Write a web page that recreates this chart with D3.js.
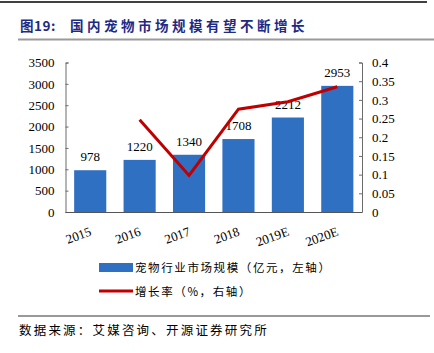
<!DOCTYPE html>
<html>
<head>
<meta charset="utf-8">
<script src="https://cdn.jsdelivr.net/npm/d3@7"></script>
<style>
  body { margin: 0; background: #fff; }
  svg { display: block; }
</style>
</head>
<body>
<div id="chart"></div>
<script>
// chart values
const years = ["2015", "2016", "2017", "2018", "2019E", "2020E"];
const marketSize = [978, 1220, 1340, 1708, 2212, 2953];      // 亿元
const growth = [null, 0.247, 0.098, 0.275, 0.295, 0.335];    // 增长率
const leftTicks = [0, 500, 1000, 1500, 2000, 2500, 3000, 3500];
const rightTicks = [0, 0.05, 0.1, 0.15, 0.2, 0.25, 0.3, 0.35, 0.4];

const W = 434, H = 353;
const plot = {left: 65.5, right: 362, top: 62.5, bottom: 212};
const serif = "'Liberation Serif', 'Times New Roman', serif";
const cjk = "'Noto Sans CJK SC', sans-serif";
const blue = "#2f70c2", red = "#c00000";

const svg = d3.select("#chart").append("svg")
    .attr("width", W)
    .attr("height", H);

// page frame lines
svg.append("line")
    .attr("x1", 0).attr("x2", 427).attr("y1", 2).attr("y2", 2)
    .attr("stroke", "#000").attr("stroke-width", 1.5);

// title
const title = svg.append("text")
    .attr("y", 31)
    .attr("fill", "#1c2a85")
    .attr("font-family", cjk)
    .attr("font-weight", "bold")
    .attr("font-size", 13.5);
title.append("tspan").attr("x", 20).attr("letter-spacing", 0.5).text("图19:");
title.append("tspan").attr("x", 70).attr("letter-spacing", 3.5).text("国内宠物市场规模有望不断增长");

svg.append("line")
    .attr("x1", 18).attr("x2", W).attr("y1", 39.5).attr("y2", 39.5)
    .attr("stroke", "#9a9a9a").attr("stroke-width", 2.2);

// scales
const x = d3.scaleBand()
    .domain(years)
    .range([plot.left, plot.right])
    .paddingInner(0.35)
    .paddingOuter(0.175);

const yL = d3.scaleLinear().domain([0, 3500]).range([plot.bottom, plot.top]);
const yR = d3.scaleLinear().domain([0, 0.4]).range([plot.bottom, plot.top]);

// bars
svg.append("g")
  .selectAll("rect")
  .data(marketSize)
  .join("rect")
    .attr("x", (d, i) => x(years[i]))
    .attr("y", d => yL(d))
    .attr("width", x.bandwidth())
    .attr("height", d => yL(0) - yL(d))
    .attr("fill", blue);

// axes
const axisL = svg.append("g")
    .attr("transform", `translate(${plot.left},0)`)
    .call(d3.axisLeft(yL).tickValues(leftTicks).tickSize(-3).tickPadding(11).tickFormat(d3.format("d")));
const axisR = svg.append("g")
    .attr("transform", `translate(${plot.right},0)`)
    .call(d3.axisRight(yR).tickValues(rightTicks).tickSize(-3).tickPadding(10).tickFormat(d => d === 0 ? "0" : String(+d.toFixed(2))));
const axisB = svg.append("g")
    .attr("transform", `translate(0,${plot.bottom})`)
    .call(d3.axisBottom(x).tickSize(0).tickPadding(0));

[axisL, axisR, axisB].forEach(g => {
  g.selectAll("path, line").attr("stroke", "#6b6b6b").attr("stroke-width", 1);
  g.selectAll("text")
      .attr("font-family", serif)
      .attr("font-size", 13)
      .attr("fill", "#000");
});
axisB.select("path").attr("d", `M${plot.left},0.5H${plot.right}`).attr("stroke", "#555");

axisB.selectAll(".tick text")
    .attr("text-anchor", "end")
    .attr("dy", 0)
    .attr("transform", "translate(2,23) rotate(-20)");

// value labels
svg.append("g")
  .selectAll("text")
  .data(marketSize)
  .join("text")
    .attr("x", (d, i) => x(years[i]) + x.bandwidth() / 2)
    .attr("y", d => yL(d) - 9)
    .attr("text-anchor", "middle")
    .attr("font-family", serif)
    .attr("font-size", 13)
    .text(d => d);

// growth line
const line = d3.line()
    .defined(d => d != null)
    .x((d, i) => x(years[i]) + x.bandwidth() / 2)
    .y(d => yR(d));

svg.append("path")
    .datum(growth)
    .attr("fill", "none")
    .attr("stroke", red)
    .attr("stroke-width", 3)
    .attr("d", line);

// legend
const legend = svg.append("g").attr("font-family", cjk).attr("font-size", 11.5);
legend.append("rect")
    .attr("x", 99).attr("y", 263).attr("width", 34).attr("height", 9)
    .attr("fill", blue);
legend.append("text")
    .attr("x", 135).attr("y", 271.5)
    .attr("letter-spacing", 1.6)
    .text("宠物行业市场规模（亿元，左轴）");
legend.append("line")
    .attr("x1", 99).attr("x2", 133).attr("y1", 291).attr("y2", 291)
    .attr("stroke", red).attr("stroke-width", 3);
legend.append("text")
    .attr("x", 135).attr("y", 295.5)
    .attr("letter-spacing", 1.6)
    .text("增长率（%，右轴）");

// source note
svg.append("line")
    .attr("x1", 18).attr("x2", 430).attr("y1", 316).attr("y2", 316)
    .attr("stroke", "#333").attr("stroke-width", 1);
svg.append("text")
    .attr("x", 19).attr("y", 334.5)
    .attr("font-family", cjk)
    .attr("font-size", 12.5)
    .attr("letter-spacing", 2.2)
    .text("数据来源：艾媒咨询、开源证券研究所");
</script>
</body>
</html>
